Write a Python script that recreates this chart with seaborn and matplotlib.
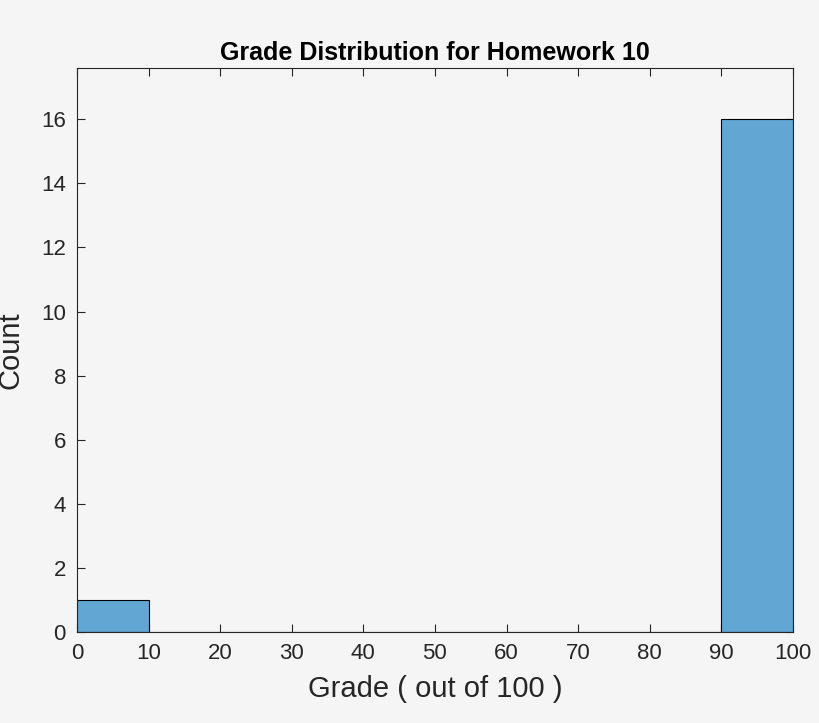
import matplotlib
matplotlib.use("Agg")
import matplotlib.pyplot as plt
import seaborn as sns
import numpy as np

bin_edges = [0, 10, 20, 30, 40, 50, 60, 70, 80, 90, 100]
counts = [1, 0, 0, 0, 0, 0, 0, 0, 0, 16]
centers = [5, 15, 25, 35, 45, 55, 65, 75, 85, 95]

sns.set_style("ticks")
plt.rcParams['font.family'] = ['Liberation Sans', 'DejaVu Sans']
fig = plt.figure(figsize=(8.2, 7.23), dpi=100, facecolor="#f5f5f5")
ax = fig.add_axes([0.0939, 0.1259, 0.873, 0.7801])
ax.set_facecolor("#f5f5f5")
sns.histplot(x=centers, weights=counts, bins=bin_edges, ax=ax,
             color="#62a7d4", alpha=1, edgecolor="black", linewidth=0.8)
ax.set_xlim(0, 100)
ax.set_ylim(0, 17.6)
ax.set_xticks(bin_edges)
ax.set_yticks(range(0, 17, 2))
ax.tick_params(labelsize=16, direction="in", length=6, colors="#262626", pad=8)
for s in ax.spines.values():
    s.set_color("#262626"); s.set_linewidth(0.8)
ax.tick_params(top=True, right=True, labeltop=False, labelright=False)
ax.set_xlabel("Grade ( out of 100 )", fontsize=21, color="#262626", labelpad=8)
ax.set_ylabel("Count", fontsize=21, color="#262626", labelpad=12)
ax.set_title("Grade Distribution for Homework 10", fontsize=18, fontweight="bold",
             color="black", pad=6)
fig.savefig("out.png", facecolor="#f5f5f5")
